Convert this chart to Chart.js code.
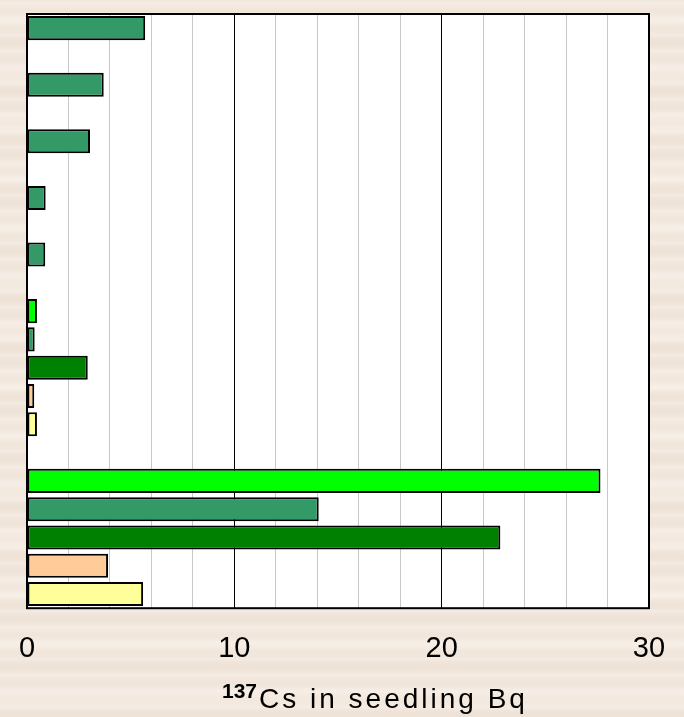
<!DOCTYPE html>
<html lang="en">
  <head>
    <meta charset="UTF-8" />
    <title>137Cs in seedling</title>
    <style>
      html,
      body {
        margin: 0;
        padding: 0;
      }
      body {
        width: 684px;
        height: 717px;
        overflow: hidden;
        background-color: #f1e6dc;
        background-image: repeating-linear-gradient(
            180deg,
            rgba(255, 255, 255, 0) 0px,
            rgba(255, 255, 255, 0.25) 3px,
            rgba(255, 255, 255, 0) 7px,
            rgba(225, 205, 190, 0.12) 11px,
            rgba(255, 255, 255, 0) 16px
          ),
          repeating-linear-gradient(
            180deg,
            rgba(255, 250, 240, 0) 0px,
            rgba(255, 250, 240, 0.3) 23px,
            rgba(230, 215, 200, 0.18) 37px,
            rgba(255, 250, 240, 0) 52px
          );
      }
      #wrap {
        position: relative;
        width: 684px;
        height: 717px;
      }
    </style>
  </head>
  <body>
    <div id="wrap">
      <canvas id="cs_chart" width="684" height="717"></canvas>
    </div>

    <script src="https://cdn.jsdelivr.net/npm/chart.js@4.4.1/dist/chart.umd.min.js"></script>
    <script>
      // one slot per bar row, top to bottom; empty slots are gaps between groups
      const categories = [
        "", "", "", "", "", "", "", "", "", "", "",
        "", "", "", "", "", "", "", "", "", "",
      ];
      const values = [
        5.7, null, 3.7, null, 3.04, null, 0.9, null, 0.88, null, 0.48,
        0.37, 2.93, 0.35, 0.48, null, 27.66, 14.07, 22.83, 3.91, 5.6,
      ];
      const colors = [
        "#339966", null, "#339966", null, "#339966", null, "#339966", null, "#339966", null, "#00ff00",
        "#339966", "#008000", "#ffcc99", "#ffff99", null, "#00ff00", "#339966", "#008000", "#ffcc99", "#ffff99",
      ];
      const xTicks = [0, 10, 20, 30];
      const axisTitle = { sup: "137", main: "Cs in seedling Bq" };

      const FONT = "'Liberation Sans', Arial, sans-serif";

      // white plot area under everything, frame on top
      const plotFrame = {
        id: "plotFrame",
        beforeDraw(chart) {
          const { ctx, chartArea: a } = chart;
          ctx.save();
          ctx.fillStyle = "#ffffff";
          ctx.fillRect(a.left, a.top, a.right - a.left, a.bottom - a.top);
          ctx.restore();
        },
        afterDraw(chart) {
          const { ctx, chartArea: a } = chart;
          ctx.save();
          ctx.strokeStyle = "#000000";
          ctx.lineWidth = 2;
          ctx.strokeRect(a.left, a.top, a.right - a.left, a.bottom - a.top);
          ctx.restore();
        },
      };

      // x axis title with a superscript mass number
      const isotopeTitle = {
        id: "isotopeTitle",
        afterDraw(chart) {
          const { ctx } = chart;
          const x0 = 222;
          const base = 708;
          ctx.save();
          ctx.fillStyle = "#000000";
          ctx.textBaseline = "alphabetic";
          ctx.textAlign = "left";
          ctx.font = "bold 21px " + FONT;
          ctx.fillText(axisTitle.sup, x0, base - 10);
          const supW = ctx.measureText(axisTitle.sup).width;
          ctx.font = "28px " + FONT;
          ctx.letterSpacing = "3px";
          ctx.fillText(axisTitle.main, x0 + supW + 2, base);
          ctx.restore();
        },
      };

      new Chart(document.getElementById("cs_chart"), {
        type: "bar",
        data: {
          labels: categories,
          datasets: [
            {
              data: values,
              backgroundColor: colors,
              borderColor: "#000000",
              borderWidth: 2,
              borderSkipped: false,
              barPercentage: 0.85,
              categoryPercentage: 1.0,
            },
          ],
        },
        options: {
          indexAxis: "y",
          responsive: false,
          animation: false,
          layout: {
            padding: { left: 27, right: 35, top: 14, bottom: 51 },
          },
          plugins: {
            legend: { display: false },
            tooltip: { enabled: false },
          },
          scales: {
            x: {
              min: 0,
              max: 30,
              ticks: {
                stepSize: 2,
                autoSkip: false,
                maxRotation: 0,
                padding: 0,
                color: "#000000",
                font: { family: FONT, size: 29 },
                callback: (v) => (xTicks.includes(v) ? String(v) : ""),
              },
              grid: {
                drawTicks: true,
                tickLength: 23,
                tickColor: "transparent",
                lineWidth: 1,
                color: (ctx) =>
                  ctx.tick && ctx.tick.value % 10 === 0 ? "#000000" : "#c8c8c8",
              },
              border: { display: false },
            },
            y: {
              ticks: { display: false },
              grid: { display: false, drawTicks: false },
              border: { display: false },
            },
          },
        },
        plugins: [plotFrame, isotopeTitle],
      });
    </script>
  </body>
</html>
